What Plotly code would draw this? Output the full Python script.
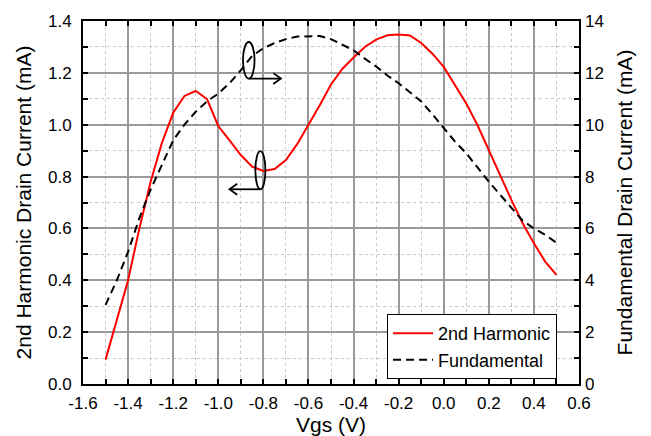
import plotly.graph_objects as go

vgs = [-1.5, -1.45, -1.4, -1.35, -1.3, -1.25, -1.2, -1.15, -1.1, -1.05,
       -1.0, -0.95, -0.9, -0.85, -0.8, -0.75, -0.7, -0.65, -0.6, -0.55,
       -0.5, -0.45, -0.4, -0.35, -0.3, -0.25, -0.2, -0.15, -0.1, -0.05,
       0.0, 0.05, 0.1, 0.15, 0.2, 0.25, 0.3, 0.35, 0.4, 0.45, 0.5]

second_harmonic = [0.094, 0.25, 0.40, 0.60, 0.78, 0.93, 1.046, 1.111, 1.13, 1.099,
                   0.995, 0.94, 0.883, 0.838, 0.822, 0.829, 0.864, 0.925, 0.998, 1.075,
                   1.155, 1.215, 1.259, 1.30, 1.328, 1.345, 1.348, 1.344, 1.315, 1.274,
                   1.223, 1.152, 1.082, 0.998, 0.902, 0.80, 0.71, 0.62, 0.543, 0.472, 0.421]

fundamental = [3.05, 4.0, 5.1, 6.4, 7.5, 8.45, 9.4, 10.0, 10.5, 10.9,
               11.2, 11.6, 12.1, 12.65, 12.95, 13.15, 13.3, 13.4, 13.42, 13.42,
               13.3, 13.1, 12.87, 12.55, 12.25, 11.9, 11.6, 11.25, 10.9, 10.4,
               9.86, 9.35, 8.9, 8.35, 7.8, 7.3, 6.8, 6.3, 6.0, 5.75, 5.45]

x_ticks = [-1.6, -1.4, -1.2, -1.0, -0.8, -0.6, -0.4, -0.2, 0.0, 0.2, 0.4, 0.6]
x_labels = ["-1.6", "-1.4", "-1.2", "-1.0", "-0.8", "-0.6", "-0.4", "-0.2", "0.0", "0.2", "0.4", "0.6"]

FONT = "Liberation Sans, Arial, sans-serif"

fig = go.Figure()
fig.add_trace(go.Scatter(x=vgs, y=second_harmonic, mode="lines", name="2nd Harmonic",
                         line=dict(color="#ff0000", width=2), yaxis="y"))
fig.add_trace(go.Scatter(x=vgs, y=fundamental, mode="lines", name="Fundamental",
                         line=dict(color="#000000", width=2, dash="8px,5px"), yaxis="y2"))

# ellipses and arrows indicating which axis each curve belongs to
shapes = [
    dict(type="circle", xref="x", yref="y", x0=-0.8905, x1=-0.839, y0=1.178, y1=1.319,
         line=dict(color="black", width=1.8)),
    dict(type="line", xref="x", yref="y", x0=-0.865, x1=-0.722, y0=1.178, y1=1.178,
         line=dict(color="black", width=1.8)),
    dict(type="path", xref="x", yref="y",
         path="M -0.756,1.199 L -0.722,1.178 L -0.756,1.157",
         line=dict(color="black", width=1.8)),
    dict(type="circle", xref="x", yref="y", x0=-0.8355, x1=-0.791, y0=0.751, y1=0.898,
         line=dict(color="black", width=1.8)),
    dict(type="line", xref="x", yref="y", x0=-0.813, x1=-0.950, y0=0.751, y1=0.751,
         line=dict(color="black", width=1.8)),
    dict(type="path", xref="x", yref="y",
         path="M -0.916,0.772 L -0.950,0.751 L -0.916,0.730",
         line=dict(color="black", width=1.8)),
]

fig.update_layout(
    width=651, height=436,
    margin=dict(l=83, r=72, t=21, b=52),
    paper_bgcolor="white", plot_bgcolor="white",
    font=dict(family=FONT, size=17, color="black"),
    showlegend=True,
    legend=dict(x=0.613, y=0.1925, xanchor="left", yanchor="top",
                bgcolor="white", bordercolor="black", borderwidth=1,
                font=dict(size=18), tracegroupgap=0, itemwidth=40),
    shapes=shapes,
    xaxis=dict(
        range=[-1.6, 0.6], tickvals=x_ticks, ticktext=x_labels, automargin=False,
        showline=True, linecolor="black", linewidth=2, mirror="allticks",
        ticks="inside", ticklen=5, tickwidth=1.5, tickcolor="black",
        showgrid=True, gridcolor="#9a9a9a", gridwidth=1.5,
        zeroline=False,
        minor=dict(dtick=0.1, tick0=-1.6, ticks="inside", ticklen=5, tickwidth=1.5, tickcolor="black",
                   showgrid=True, gridcolor="#c8c8c8", gridwidth=1, griddash="dot"),
        title=dict(text="Vgs (V)", font=dict(size=21), standoff=3),
        tickfont=dict(size=17), ticklabelstandoff=3,
    ),
    yaxis=dict(
        range=[0, 1.4], dtick=0.2, tick0=0, tickformat=".1f", automargin=False,
        showline=True, linecolor="black", linewidth=2, mirror=True,
        ticks="inside", ticklen=5, tickwidth=1.5, tickcolor="black",
        showgrid=True, gridcolor="#9a9a9a", gridwidth=1.5,
        zeroline=False,
        minor=dict(dtick=0.1, tick0=0, ticks="inside", ticklen=5, tickwidth=1.5, tickcolor="black",
                   showgrid=True, gridcolor="#c8c8c8", gridwidth=1, griddash="dot"),
        title=dict(text="2nd Harmonic Drain Current (mA)", font=dict(size=21), standoff=11),
        tickfont=dict(size=17), ticklabelstandoff=6,
    ),
    yaxis2=dict(
        range=[0, 14], dtick=2, tick0=0, overlaying="y", side="right", automargin=False,
        showline=False, ticks="inside", ticklen=5, tickwidth=1.5, tickcolor="black",
        showgrid=False, zeroline=False,
        minor=dict(dtick=1, tick0=0, ticks="inside", ticklen=5, tickwidth=1.5, tickcolor="black",
                   showgrid=False),
        title=dict(text="Fundamental Drain Current (mA)", font=dict(size=21), standoff=14),
        tickfont=dict(size=17), ticklabelstandoff=5,
    ),
)

fig.write_html("out.html")
